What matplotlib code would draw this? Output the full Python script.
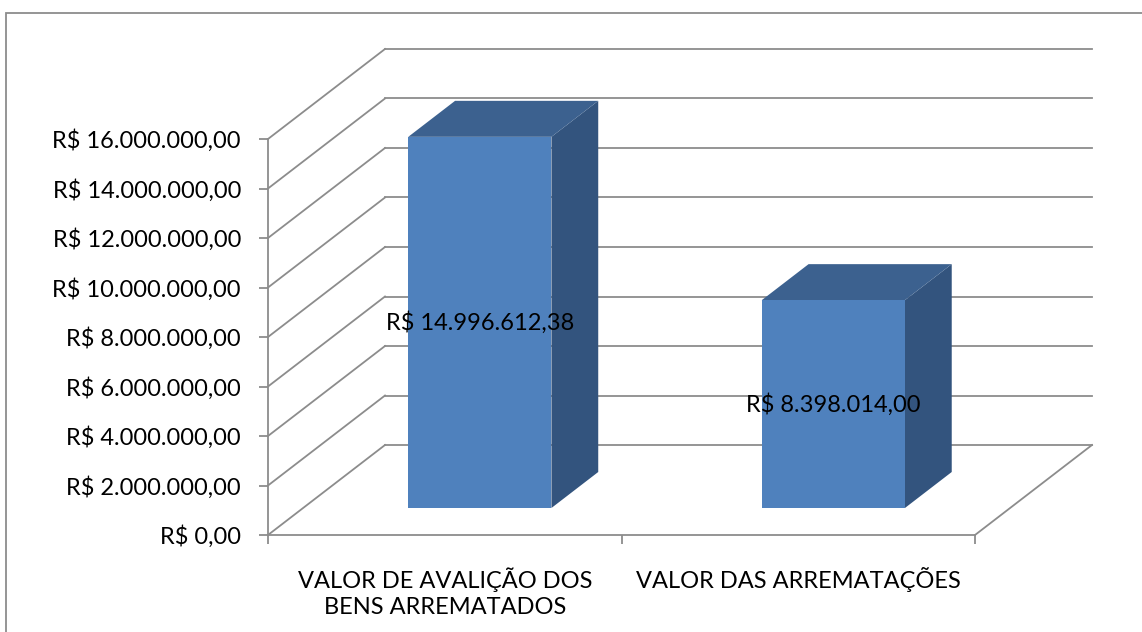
import numpy as np
import matplotlib
matplotlib.use("Agg")
import matplotlib.pyplot as plt
from matplotlib.patches import Polygon, Rectangle
from matplotlib.ticker import FuncFormatter

plt.rcParams['font.family'] = ['Lato', 'DejaVu Sans']

# ── dados ────────────────────────────────────────────────────────────────────
categorias = ["VALOR DE AVALIÇÃO DOS\nBENS ARREMATADOS", "VALOR DAS ARREMATAÇÕES"]
valores    = [14996612.38, 8398014.00]
y_ticks    = np.arange(0, 16000001, 2000000)

# ── estilo ───────────────────────────────────────────────────────────────────
COR_FRENTE = '#4F81BD'
COR_TOPO   = '#3C618F'
COR_LADO   = '#33547E'
COR_GRADE  = '#8C8C8C'
FS         = 17

def brl(v, pos=None):
    s = f"{v:,.2f}".replace(",", "X").replace(".", ",").replace("X", ".")
    return f"R$ {s}"

W, H = 1142, 632
fig = plt.figure(figsize=(W/100, H/100), dpi=100)

# borda da área do gráfico (só topo e esquerda aparecem)
fig.patches.append(Rectangle((6/W, -0.1), 1.2, (H - 13)/H + 0.1, transform=fig.transFigure,
                             fill=False, edgecolor='#8C8C8C', lw=1.3))

ax = fig.add_axes([268/W, 97/H, 707/W, 396/H])
ax.set_xlim(0, len(categorias))
ax.set_ylim(0, 16000000)

# profundidade 3D em unidades de dados
DX = 117 / 353.5
DY = 90 / 396 * 16000000

# paredes: grade lateral + fundo
for v in y_ticks:
    ax.plot([0, DX], [v, v + DY], color=COR_GRADE, lw=1.3, zorder=1, clip_on=False)
    ax.plot([DX, len(categorias) + DX], [v + DY, v + DY], color=COR_GRADE, lw=1.3,
            zorder=1, clip_on=False)
# aresta direita do piso
ax.plot([len(categorias), len(categorias) + DX], [0, DY], color=COR_GRADE, lw=1.3,
        zorder=1, clip_on=False)

# barras 3D
larg = 0.405
d0, d1 = 0.3, 0.7
for i, val in enumerate(valores):
    c  = i + 0.5 + d0 * DX
    xl, xr = c - larg/2, c + larg/2
    y0 = d0 * DY
    yt = y0 + val
    ox, oy = (d1 - d0) * DX, (d1 - d0) * DY
    frente = Polygon([(xl, y0), (xr, y0), (xr, yt), (xl, yt)], closed=True,
                     facecolor=COR_FRENTE, edgecolor='none', zorder=3, clip_on=False)
    topo = Polygon([(xl, yt), (xr, yt), (xr + ox, yt + oy), (xl + ox, yt + oy)], closed=True,
                   facecolor=COR_TOPO, edgecolor='none', zorder=3, clip_on=False)
    lado = Polygon([(xr, y0), (xr + ox, y0 + oy), (xr + ox, yt + oy), (xr, yt)], closed=True,
                   facecolor=COR_LADO, edgecolor='none', zorder=3, clip_on=False)
    for p in (lado, topo, frente):
        ax.add_patch(p)
    ax.text(c, y0 + val/2, brl(val), ha='center', va='center', fontsize=FS,
            color='black', zorder=5)

# eixos
for s in ['top', 'right']:
    ax.spines[s].set_visible(False)
for s in ['left', 'bottom']:
    ax.spines[s].set_color(COR_GRADE)
    ax.spines[s].set_linewidth(1.3)
ax.set_facecolor('none')

ax.set_yticks(y_ticks)
ax.yaxis.set_major_formatter(FuncFormatter(brl))
ax.tick_params(axis='y', direction='out', length=6.5, width=1.3, color=COR_GRADE,
               pad=13, labelsize=FS)

ax.set_xticks(np.arange(len(categorias) + 1), minor=True)
ax.set_xticks(np.arange(len(categorias)) + 0.5)
ax.set_xticklabels(categorias, fontsize=FS, linespacing=1.3)
ax.tick_params(axis='x', which='major', length=0, pad=23)
ax.tick_params(axis='x', which='minor', direction='out', length=6.5, width=1.3,
               color=COR_GRADE)

fig.savefig("out.png", dpi=100)
